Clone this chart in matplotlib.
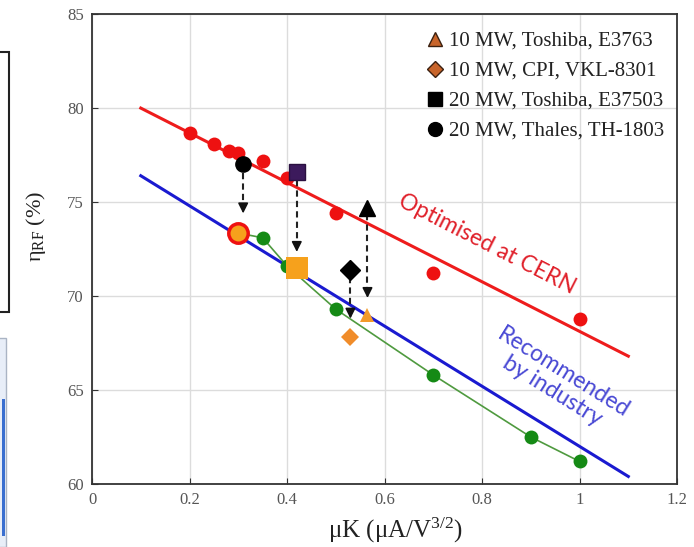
import matplotlib.pyplot as plt
from matplotlib.lines import Line2D
from matplotlib.patches import Rectangle

SERIF = "Liberation Serif"
SANS = "Lato"
plt.rcParams["mathtext.fontset"] = "custom"
plt.rcParams["mathtext.rm"] = SERIF
plt.rcParams["mathtext.it"] = SERIF + ":italic"

# fitted lines
fit_x = [0.1, 1.1]
cern_y = [80.0, 66.8]
industry_y = [76.4, 60.4]

# optimised at CERN (red dots)
cern_pts_x = [0.2, 0.25, 0.28, 0.3, 0.35, 0.4, 0.5, 0.7, 1.0]
cern_pts_y = [78.7, 78.1, 77.7, 77.6, 77.2, 76.3, 74.4, 71.2, 68.8]

# industry designs (green dots)
ind_pts_x = [0.3, 0.35, 0.4, 0.5, 0.7, 0.9, 1.0]
ind_pts_y = [73.35, 73.1, 71.6, 69.3, 65.8, 62.5, 61.2]

# tubes: triangle, diamond, square, circle
tube_labels = ["10 MW, Toshiba, E3763", "10 MW, CPI, VKL-8301",
               "20 MW, Toshiba, E37503", "20 MW, Thales, TH-1803"]
before_x = [0.565, 0.53, 0.42, 0.31]
before_y = [74.7, 71.4, 76.6, 77.0]
after_x = [0.565, 0.53, 0.42, 0.30]
after_y = [69.0, 67.8, 71.5, 73.35]

xticks = [0, 0.2, 0.4, 0.6, 0.8, 1.0, 1.2]
xtick_labels = ["0", "0.2", "0.4", "0.6", "0.8", "1", "1.2"]
yticks = [60, 65, 70, 75, 80, 85]

fig = plt.figure(figsize=(6.94, 5.47), dpi=100)
ax = fig.add_axes([0.1326, 0.1152, 0.843, 0.859])

# fragments of the neighbouring panel on the left
fig.patches.append(Rectangle((-0.01, 1 - 312 / 547), 0.023, (312 - 52) / 547,
                             transform=fig.transFigure, fill=False,
                             edgecolor="#222222", linewidth=1.5))
fig.patches.append(Rectangle((-0.01, 0.0), 0.018, (547 - 338) / 547,
                             transform=fig.transFigure, facecolor="#e8eef8",
                             edgecolor="#aab4c4", linewidth=1.0))
fig.patches.append(Rectangle((0.003, 0.02), 0.004, 0.25,
                             transform=fig.transFigure, facecolor="#3a6fd0",
                             edgecolor="none"))

ax.plot(fit_x, cern_y, color="#ee1c1c", linewidth=2.2, zorder=2)
ax.plot(fit_x, industry_y, color="#1a1ad0", linewidth=2.2, zorder=2)
ax.plot(ind_pts_x, ind_pts_y, color="#4f9a3f", linewidth=1.2, zorder=3)
ax.plot(ind_pts_x[1:], ind_pts_y[1:], "o", color="#158a15", markersize=10,
        markeredgewidth=0, zorder=4)
ax.plot(cern_pts_x, cern_pts_y, "o", color="#ee1111", markersize=10,
        markeredgewidth=0, zorder=4)

# dashed arrows before -> after
arrow_gap_top = [0.35, 0.4, 0.4, 0.45]
arrow_gap_bot = [0.75, 0.85, 0.7, 0.9]
for bx, by, ayy, gt, gb in zip(before_x, before_y, after_y,
                               arrow_gap_top, arrow_gap_bot):
    y0 = by - gt
    y1 = ayy + gb
    ax.plot([bx, bx], [y0, y1 + 0.5], color="#222222", linestyle=(0, (3, 2)),
            linewidth=1.5, zorder=5)
    ax.annotate("", xy=(bx, y1), xytext=(bx, y1 + 0.6),
                arrowprops=dict(arrowstyle="-|>,head_length=0.6,head_width=0.3",
                                color="#111111", linewidth=1.2), zorder=5)

# markers before (dark) and after (orange)
ax.plot(before_x[0], before_y[0], "^", color="black", markersize=11, zorder=6)
ax.plot(before_x[1], before_y[1], "D", color="black", markersize=10, zorder=6)
ax.plot(before_x[2], before_y[2], "s", color="#3c1a5c", markersize=11,
        markeredgecolor="#2a1040", zorder=6)
ax.plot(before_x[3], before_y[3], "o", color="black", markersize=11, zorder=6)

ax.plot(after_x[0], after_y[0], "^", color="#f39a2a", markersize=10,
        markeredgewidth=0, zorder=6)
ax.plot(after_x[1], after_y[1], "D", color="#f08c2a", markersize=9,
        markeredgewidth=0, zorder=6)
ax.plot(after_x[2], after_y[2], "s", color="#f6a11c", markersize=16,
        markeredgewidth=0, zorder=6)
ax.plot(after_x[3], after_y[3], "o", color="#f6a11c", markersize=14,
        markeredgecolor="#ee1111", markeredgewidth=2.5, zorder=6)

ax.text(0.81, 72.75, "Optimised at CERN", color="#e0202a", fontsize=16.5,
        family=SANS, rotation=-27, ha="center", va="center",
        rotation_mode="anchor")
ax.text(0.955, 65.45, "Recommended\nby industry", color="#4848d4", fontsize=16.5,
        family=SANS, rotation=-32, ha="center", va="center",
        rotation_mode="anchor", linespacing=1.0)

handles = [
    Line2D([], [], marker="^", linestyle="none", markerfacecolor="#c8642a",
           markeredgecolor="#3a2010", markersize=10),
    Line2D([], [], marker="D", linestyle="none", markerfacecolor="#c8642a",
           markeredgecolor="#3a2010", markersize=8),
    Line2D([], [], marker="s", linestyle="none", color="black", markersize=10),
    Line2D([], [], marker="o", linestyle="none", color="black", markersize=10),
]
leg = ax.legend(handles, tube_labels, loc="upper right", frameon=False,
                prop={"family": SERIF, "size": 15}, handlelength=0.8,
                handletextpad=0.3, labelspacing=0.5,
                bbox_to_anchor=(1.0, 0.99), borderaxespad=0.2)
for t in leg.get_texts():
    t.set_color("#222222")

ax.set_xlim(0, 1.2)
ax.set_ylim(60, 85)
ax.set_xticks(xticks)
ax.set_xticklabels(xtick_labels)
ax.set_yticks(yticks)
ax.grid(True, color="#dcdcdc", linewidth=1.0)
ax.set_axisbelow(True)
ax.tick_params(direction="in", length=4, labelsize=12, labelcolor="#555555",
               color="#333333", pad=6)
for lab in ax.get_xticklabels() + ax.get_yticklabels():
    lab.set_family(SERIF)
for sp in ax.spines.values():
    sp.set_color("#333333")
    sp.set_linewidth(1.3)

fig.text(395 / 694, 1 - 530 / 547, r"$\mathregular{\mu}$K ($\mathregular{\mu}$A/V$^{3/2}$)",
         family=SERIF, fontsize=18, color="#222222", ha="center", va="center")
fig.text(36 / 694, 1 - 226 / 547, r"$\mathregular{\eta_{RF}}$ (%)", family=SERIF,
         fontsize=16, color="#222222", rotation=90, ha="center", va="center")

fig.savefig("out.png", dpi=100)
